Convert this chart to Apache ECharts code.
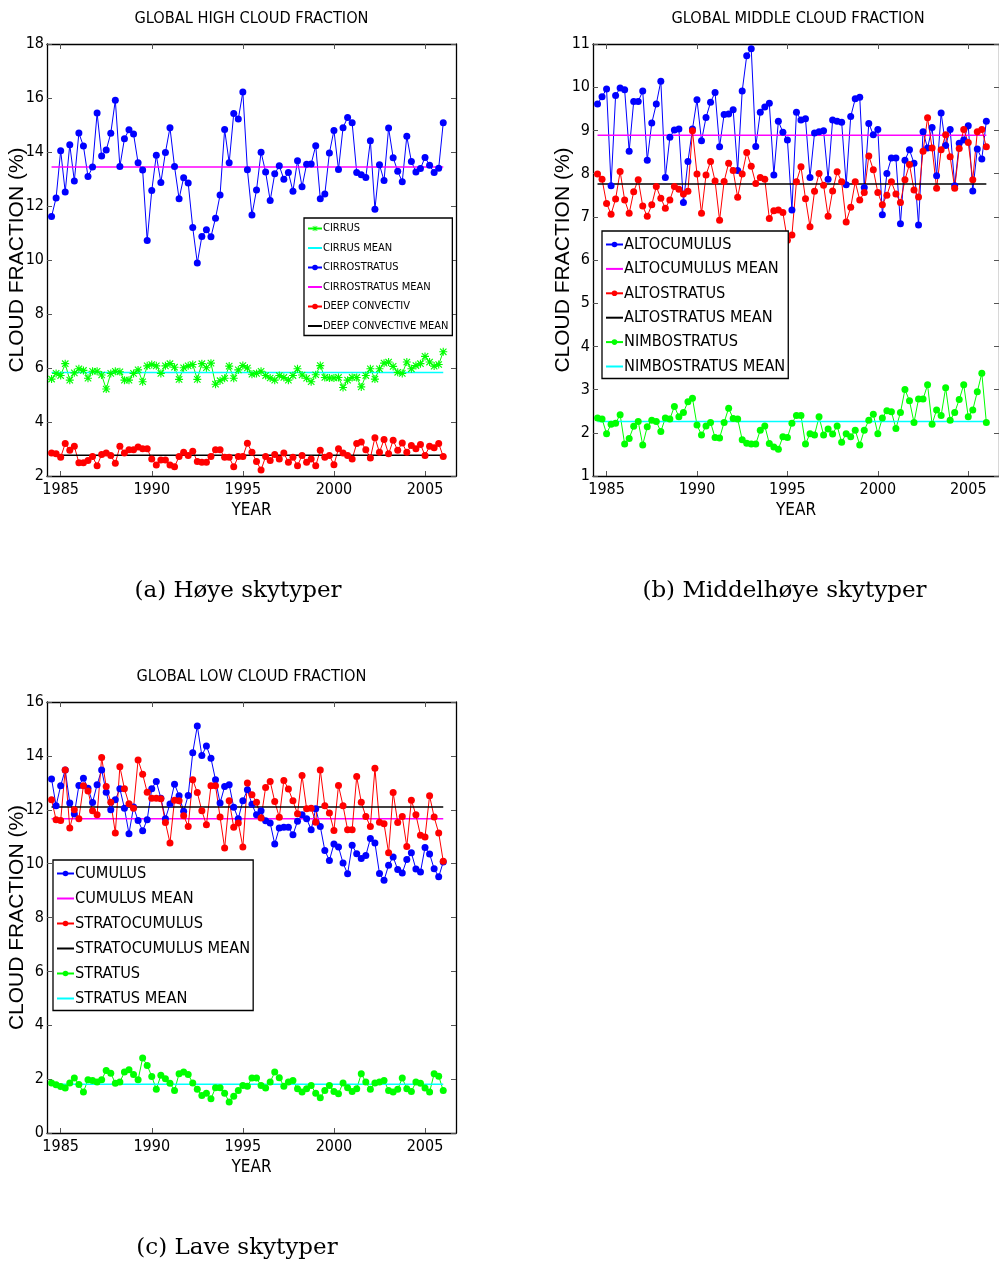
<!DOCTYPE html>
<html>
<head>
<meta charset="utf-8">
<script src="https://cdn.jsdelivr.net/npm/echarts@6/dist/echarts.min.js"></script>
<style>
  html, body { margin: 0; padding: 0; background: #fff; }
  #chart { width: 999px; height: 1265px; }
</style>
</head>
<body>
<div id="chart"></div>
<script>
// Seasonal global cloud-type fractions (%), one value per quarter from 1984.5 to 2006.0
const T_START = 1984.5;
const T_STEP = 0.25;
const N_SAMPLES = 87;
const yearTicks = [1985, 1990, 1995, 2000, 2005];

// High clouds
const cirrus = [5.59,5.80,5.72,6.16,5.55,5.82,5.97,5.91,5.62,5.88,5.88,5.74,5.22,5.80,5.88,5.86,5.55,5.55,5.80,5.93,5.49,6.08,6.13,6.08,5.80,6.08,6.16,6.03,5.58,6.01,6.08,6.13,5.58,6.16,6.01,6.18,5.40,5.53,5.62,6.07,5.62,5.93,6.09,6.00,5.77,5.80,5.88,5.72,5.63,5.55,5.72,5.65,5.55,5.72,5.97,5.74,5.62,5.49,5.75,6.09,5.65,5.63,5.63,5.65,5.28,5.55,5.65,5.65,5.30,5.72,5.97,5.59,5.97,6.18,6.22,6.06,5.84,5.80,6.22,5.97,6.09,6.16,6.43,6.22,6.07,6.13,6.60];
const cirrostratus = [11.61,12.30,14.05,12.52,14.27,12.93,14.70,14.22,13.09,13.44,15.44,13.85,14.07,14.69,15.92,13.46,14.49,14.82,14.67,13.60,13.33,10.72,12.57,13.88,12.87,13.98,14.90,13.46,12.27,13.05,12.85,11.20,9.89,10.87,11.12,10.86,11.55,12.41,14.83,13.60,15.43,15.22,16.22,13.34,11.67,12.59,13.99,13.26,12.20,13.19,13.49,12.99,13.24,12.55,13.68,12.71,13.55,13.56,14.23,12.27,12.44,13.96,14.80,13.35,14.90,15.28,15.08,13.24,13.16,13.06,14.42,11.88,13.53,12.94,14.89,13.79,13.29,12.90,14.58,13.65,13.26,13.39,13.80,13.51,13.24,13.40,15.08];
const deepConvective = [2.85,2.82,2.69,3.20,2.95,3.10,2.49,2.49,2.57,2.72,2.38,2.80,2.85,2.76,2.47,3.10,2.85,2.97,2.97,3.07,3.01,3.01,2.63,2.41,2.59,2.59,2.41,2.34,2.72,2.88,2.76,2.92,2.54,2.51,2.51,2.72,2.97,2.97,2.69,2.69,2.34,2.72,2.72,3.21,2.88,2.54,2.22,2.72,2.57,2.80,2.63,2.85,2.51,2.69,2.38,2.76,2.51,2.63,2.38,2.95,2.69,2.76,2.42,3.01,2.85,2.76,2.63,3.20,3.26,2.97,2.67,3.42,2.88,3.35,2.82,3.32,2.95,3.22,2.88,3.13,3.01,3.17,2.76,3.10,3.05,3.20,2.72];
const cirrusMean = 5.83;
const cirrostratusMean = 13.44;
const deepConvectiveMean = 2.77;

// Middle clouds
const altocumulus = [9.61,9.78,9.96,7.72,9.81,9.98,9.94,8.52,9.67,9.67,9.91,8.31,9.17,9.61,10.14,7.91,8.84,9.01,9.03,7.33,8.28,9.03,9.71,8.76,9.30,9.65,9.88,8.62,9.37,9.38,9.48,8.07,9.91,10.73,10.89,8.63,9.42,9.54,9.63,7.97,9.21,8.96,8.78,7.16,9.42,9.24,9.27,7.91,8.94,8.97,8.99,7.87,9.24,9.21,9.19,7.74,9.32,9.73,9.77,7.68,9.16,8.90,9.02,7.05,8.00,8.36,8.36,6.84,8.31,8.55,8.24,6.81,8.97,8.59,9.07,7.95,9.40,8.65,9.02,7.72,8.70,8.78,9.11,7.60,8.57,8.34,9.21];
const altostratus = [7.99,7.87,7.31,7.06,7.41,8.05,7.39,7.08,7.58,7.86,7.25,7.01,7.28,7.70,7.43,7.20,7.39,7.70,7.64,7.53,7.59,8.99,7.99,7.08,7.97,8.28,7.83,6.92,7.82,8.24,8.07,7.45,7.99,8.49,8.17,7.77,7.91,7.87,6.96,7.14,7.16,7.10,6.46,6.58,7.81,8.16,7.42,6.77,7.59,8.00,7.73,7.01,7.60,8.04,7.81,6.88,7.22,7.81,7.39,7.56,8.41,8.09,7.56,7.28,7.50,7.81,7.53,7.33,7.86,8.21,7.62,7.46,8.52,9.29,8.59,7.66,8.55,8.90,8.39,7.66,8.58,9.02,8.72,7.86,8.97,9.02,8.62];
const nimbostratus = [2.34,2.32,1.98,2.20,2.22,2.42,1.74,1.87,2.15,2.26,1.72,2.14,2.29,2.26,2.03,2.34,2.32,2.61,2.37,2.47,2.72,2.80,2.18,1.95,2.16,2.24,1.89,1.88,2.24,2.57,2.33,2.32,1.84,1.76,1.74,1.74,2.06,2.16,1.75,1.67,1.62,1.91,1.89,2.22,2.40,2.40,1.74,1.98,1.95,2.37,1.95,2.09,1.97,2.16,1.78,1.98,1.91,2.06,1.72,2.06,2.29,2.43,1.98,2.34,2.51,2.49,2.10,2.47,3.00,2.74,2.24,2.78,2.78,3.11,2.20,2.53,2.40,3.04,2.29,2.47,2.77,3.11,2.37,2.53,2.95,3.38,2.24];
const altocumulusMean = 8.89;
const altostratusMean = 7.76;
const nimbostratusMean = 2.26;

// Low clouds
const cumulus = [13.14,12.15,12.89,13.48,12.25,11.84,12.90,13.17,12.80,12.27,12.93,13.48,12.65,12.00,12.37,12.78,12.06,11.11,12.10,11.60,11.22,11.63,12.78,13.05,12.43,11.67,12.21,12.95,12.52,11.94,12.53,14.12,15.11,14.01,14.37,13.91,13.11,12.25,12.86,12.93,12.09,11.67,12.33,12.74,12.20,11.81,11.96,11.59,11.51,10.73,11.32,11.35,11.35,11.07,11.57,11.81,11.67,11.26,12.04,11.38,10.49,10.12,10.73,10.62,10.02,9.62,10.68,10.37,10.19,10.30,10.93,10.77,9.63,9.38,9.94,10.25,9.78,9.65,10.15,10.40,9.80,9.69,10.60,10.36,9.81,9.51,10.06];
const stratocumulus = [12.37,11.63,11.60,13.48,11.32,12.00,11.67,12.89,12.70,11.96,11.81,13.94,12.86,12.28,11.14,13.60,12.78,12.22,12.06,13.85,13.32,12.65,12.43,12.43,12.41,11.53,10.77,12.35,12.33,11.78,11.38,13.11,12.64,11.96,11.44,12.89,12.89,11.73,10.58,12.33,11.35,11.51,10.62,12.99,12.56,12.28,11.69,12.83,13.05,12.31,11.72,13.09,12.77,12.33,11.85,13.27,12.04,12.06,11.54,13.48,12.15,11.88,11.23,12.90,12.15,11.26,11.26,13.23,12.28,11.75,11.38,13.54,11.54,11.48,10.40,12.64,11.53,11.75,10.64,12.35,11.81,11.05,10.99,12.52,11.73,11.14,10.09];
const stratus = [1.86,1.79,1.73,1.67,1.86,2.04,1.80,1.52,1.98,1.95,1.89,1.98,2.32,2.22,1.85,1.89,2.26,2.35,2.17,1.98,2.78,2.51,2.10,1.62,2.14,2.01,1.85,1.58,2.20,2.26,2.17,1.86,1.62,1.39,1.48,1.27,1.68,1.68,1.48,1.15,1.36,1.58,1.76,1.74,2.04,2.04,1.76,1.67,1.89,2.26,2.05,1.74,1.89,1.95,1.64,1.52,1.64,1.76,1.48,1.31,1.58,1.76,1.54,1.46,1.86,1.68,1.54,1.64,2.20,1.89,1.62,1.86,1.89,1.95,1.58,1.52,1.62,2.04,1.64,1.54,1.89,1.85,1.67,1.52,2.20,2.11,1.58];
const cumulusMean = 11.67;
const stratocumulusMean = 12.10;
const stratusMean = 1.81;

const years = Array.from({ length: N_SAMPLES }, (_, i) => T_START + i * T_STEP);
const pairs = vals => years.map((t, i) => [t, vals[i]]);
const flat = v => [[years[0], v], [years[years.length - 1], v]];

const NARROW = "'Liberation Sans Narrow', 'DejaVu Sans Condensed', 'Arial Narrow', 'Liberation Sans', sans-serif";
const WIDE = "'Liberation Sans', Arial, sans-serif";
const SERIF = "'DejaVu Serif', 'Liberation Serif', serif";

// asterisk marker used for the cirrus series
const ASTERISK = 'path://M4.3 0L5.7 0L5.7 10L4.3 10Z M0 4.3L10 4.3L10 5.7L0 5.7Z M0.5 1.5L1.5 0.5L9.5 8.5L8.5 9.5Z M8.5 0.5L9.5 1.5L1.5 9.5L0.5 8.5Z';

const X_MIN = 1984.25, X_MAX = 2006.7;
const grids = [
  { left: 47, top: 44, width: 409, height: 432 },
  { left: 593, top: 44, width: 412, height: 432 },
  { left: 47, top: 702, width: 409, height: 431 }
];
const yRanges = [[2, 18, 2], [1, 11, 1], [0, 16, 2]];

const xAxes = [], yAxes = [];
grids.forEach((g, gi) => {
  const common = {
    gridIndex: gi, type: 'value', min: X_MIN, max: X_MAX,
    axisLine: { show: true, onZero: false, lineStyle: { color: '#000', width: 1.3 } },
    axisTick: { show: true, inside: true, length: 5, customValues: yearTicks, lineStyle: { color: '#555', width: 1 } },
    splitLine: { show: false }
  };
  xAxes.push(Object.assign({}, common, {
    position: 'bottom',
    axisLabel: { customValues: yearTicks, formatter: v => String(v), color: '#000', fontFamily: NARROW, fontSize: 16, margin: 6 },
    name: 'YEAR', nameLocation: 'middle', nameGap: 26, nameMoveOverlap: false,
    nameTextStyle: { color: '#000', fontFamily: NARROW, fontSize: 17 }
  }));
  xAxes.push(Object.assign({}, common, { position: 'top', axisLabel: { show: false } }));
  const [mn, mx, iv] = yRanges[gi];
  const ycommon = {
    gridIndex: gi, type: 'value', min: mn, max: mx, interval: iv,
    axisLine: { show: true, onZero: false, lineStyle: { color: '#000', width: 1.3 } },
    axisTick: { show: true, inside: true, length: 5, lineStyle: { color: '#555', width: 1 } },
    splitLine: { show: false }
  };
  yAxes.push(Object.assign({}, ycommon, {
    position: 'left',
    axisLabel: { color: '#000', fontFamily: NARROW, fontSize: 16, margin: 3 },
    name: 'CLOUD FRACTION (%)', nameLocation: 'middle', nameGap: 19, nameMoveOverlap: false,
    nameTextStyle: { color: '#000', fontFamily: WIDE, fontSize: 21 }
  }));
  yAxes.push(Object.assign({}, ycommon, { position: 'right', axisLabel: { show: false } }));
});

function dots(name, vals, color, gi, symbol) {
  return {
    name, type: 'line', xAxisIndex: gi * 2, yAxisIndex: gi * 2,
    data: pairs(vals), symbol: symbol || 'circle', symbolSize: symbol ? 8 : 7,
    showSymbol: true,
    lineStyle: { color, width: 1 }, itemStyle: { color, borderWidth: 0 },
    emphasis: { disabled: true }, animation: false
  };
}
function meanLine(name, v, color, gi) {
  return {
    name, type: 'line', xAxisIndex: gi * 2, yAxisIndex: gi * 2,
    data: flat(v), symbol: 'none',
    lineStyle: { color, width: 1.5 }, itemStyle: { color: 'rgba(0,0,0,0)' },
    emphasis: { disabled: true }, animation: false
  };
}

const series = [
  dots('CIRRUS', cirrus, '#00ff00', 0, ASTERISK),
  meanLine('CIRRUS MEAN', cirrusMean, '#00ffff', 0),
  dots('CIRROSTRATUS', cirrostratus, '#0000ff', 0),
  meanLine('CIRROSTRATUS MEAN', cirrostratusMean, '#ff00ff', 0),
  dots('DEEP CONVECTIV', deepConvective, '#ff0000', 0),
  meanLine('DEEP CONVECTIVE MEAN', deepConvectiveMean, '#000000', 0),

  dots('ALTOCUMULUS', altocumulus, '#0000ff', 1),
  meanLine('ALTOCUMULUS MEAN', altocumulusMean, '#ff00ff', 1),
  dots('ALTOSTRATUS', altostratus, '#ff0000', 1),
  meanLine('ALTOSTRATUS MEAN', altostratusMean, '#000000', 1),
  dots('NIMBOSTRATUS', nimbostratus, '#00ff00', 1),
  meanLine('NIMBOSTRATUS MEAN', nimbostratusMean, '#00ffff', 1),

  dots('CUMULUS', cumulus, '#0000ff', 2),
  meanLine('CUMULUS MEAN', cumulusMean, '#ff00ff', 2),
  dots('STRATOCUMULUS', stratocumulus, '#ff0000', 2),
  meanLine('STRATOCUMULUS MEAN', stratocumulusMean, '#000000', 2),
  dots('STRATUS', stratus, '#00ff00', 2),
  meanLine('STRATUS MEAN', stratusMean, '#00ffff', 2)
];

function legendBox(names, left, top, fontSize, gap, itemW, pad) {
  return {
    data: names, orient: 'vertical', left, top,
    backgroundColor: '#fff', borderColor: '#000', borderWidth: 1.3,
    padding: pad, itemGap: gap, itemWidth: itemW, itemHeight: 7,
    selectedMode: false,
    textStyle: { color: '#000', fontFamily: NARROW, fontSize, padding: [0, 0, 0, -4] }
  };
}

const option = {
  backgroundColor: '#fff',
  animation: false,
  grid: grids.map(g => Object.assign({ containLabel: false }, g)),
  xAxis: xAxes,
  yAxis: yAxes,
  legend: [
    legendBox(['CIRRUS', 'CIRRUS MEAN', 'CIRROSTRATUS', 'CIRROSTRATUS MEAN', 'DEEP CONVECTIV', 'DEEP CONVECTIVE MEAN'], 304, 218, 11, 8.5, 14, [5, 4, 4, 3]),
    legendBox(['ALTOCUMULUS', 'ALTOCUMULUS MEAN', 'ALTOSTRATUS', 'ALTOSTRATUS MEAN', 'NIMBOSTRATUS', 'NIMBOSTRATUS MEAN'], 602, 231, 16.2, 8.4, 17, [5.5, 3, 4, 3]),
    legendBox(['CUMULUS', 'CUMULUS MEAN', 'STRATOCUMULUS', 'STRATOCUMULUS MEAN', 'STRATUS', 'STRATUS MEAN'], 53, 860, 16.2, 9.0, 17, [5.5, 3, 4, 3])
  ],
  series,
  graphic: [
    { type: 'text', x: 251.5, y: 19, style: { text: 'GLOBAL HIGH CLOUD FRACTION', fill: '#000', font: `16.2px ${NARROW}`, textAlign: 'center', textVerticalAlign: 'middle' } },
    { type: 'text', x: 798, y: 19, style: { text: 'GLOBAL MIDDLE CLOUD FRACTION', fill: '#000', font: `16.2px ${NARROW}`, textAlign: 'center', textVerticalAlign: 'middle' } },
    { type: 'text', x: 251.5, y: 677, style: { text: 'GLOBAL LOW CLOUD FRACTION', fill: '#000', font: `16.2px ${NARROW}`, textAlign: 'center', textVerticalAlign: 'middle' } },
    { type: 'text', x: 238, y: 591, style: { text: '(a) Høye skytyper', fill: '#000', font: `23px ${SERIF}`, textAlign: 'center', textVerticalAlign: 'middle' } },
    { type: 'text', x: 784.5, y: 591, style: { text: '(b) Middelhøye skytyper', fill: '#000', font: `23px ${SERIF}`, textAlign: 'center', textVerticalAlign: 'middle' } },
    { type: 'text', x: 237, y: 1248, style: { text: '(c) Lave skytyper', fill: '#000', font: `23px ${SERIF}`, textAlign: 'center', textVerticalAlign: 'middle' } }
  ]
};

const chart = echarts.init(document.getElementById('chart'), null, { renderer: 'canvas' });
chart.setOption(option);
</script>
</body>
</html>
